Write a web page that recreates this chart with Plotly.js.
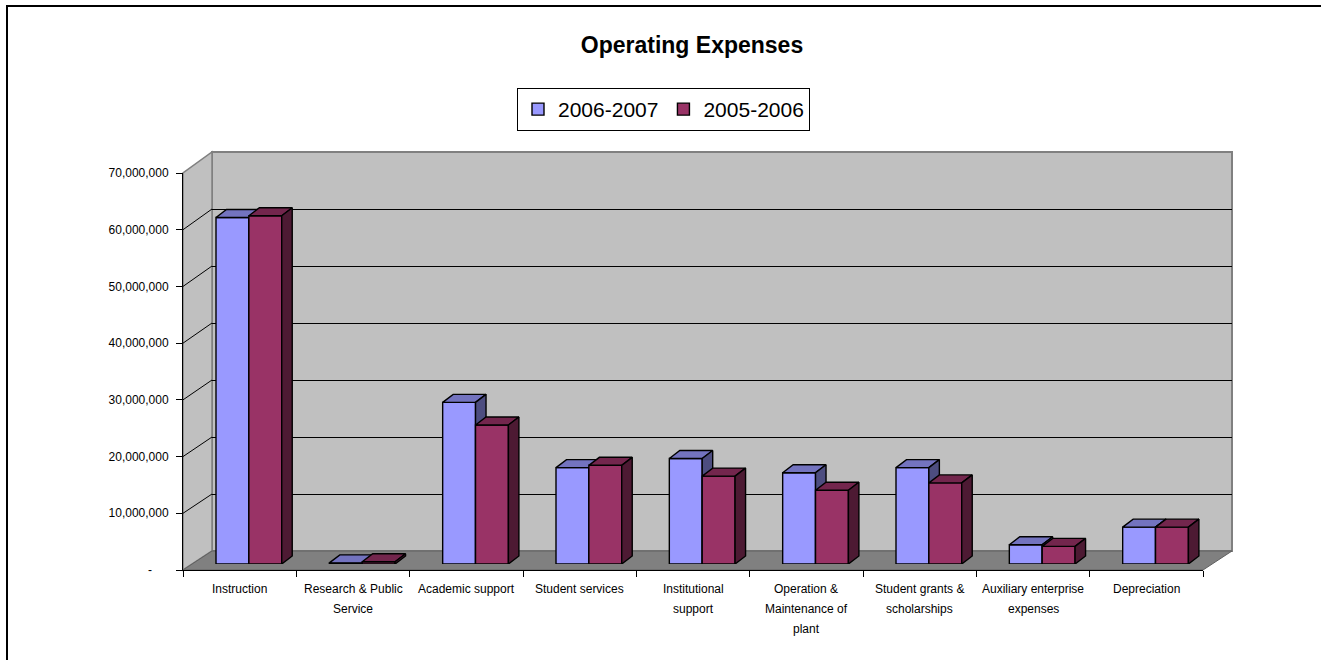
<!DOCTYPE html>
<html>
<head>
<meta charset="utf-8">
<script src="https://cdn.plot.ly/plotly-3.0.1.min.js"></script>
<style>
html,body{margin:0;padding:0;background:#fff;overflow:hidden;width:1321px;height:660px;}
#wrap{position:relative;width:1321px;height:660px;overflow:hidden;}
#chart{width:1321px;height:660px;}
#frame{position:absolute;left:6px;top:5px;width:1400px;height:800px;border-left:2px solid #000;border-top:2px solid #000;pointer-events:none;}
</style>
</head>
<body>
<div id="wrap"><div id="chart"></div><div id="frame"></div></div>
<script>
// ---- data ----
const categories = [
  'Instruction',
  'Research & Public<br>Service',
  'Academic support',
  'Student services',
  'Institutional<br>support',
  'Operation &<br>Maintenance of<br>plant',
  'Student grants &<br>scholarships',
  'Auxiliary enterprise<br>expenses',
  'Depreciation'
];
const seriesNames = ['2006-2007', '2005-2006'];
const values2007 = [61.1e6, 0.2e6, 28.5e6, 17.0e6, 18.6e6, 16.1e6, 17.0e6, 3.4e6, 6.5e6];
const values2006 = [61.4e6, 0.4e6, 24.5e6, 17.4e6, 15.5e6, 13.0e6, 14.3e6, 3.1e6, 6.5e6];
const yTickVals = [0, 10e6, 20e6, 30e6, 40e6, 50e6, 60e6, 70e6];
const yTickText = ['-\u00a0\u00a0\u00a0\u00a0\u00a0', '10,000,000', '20,000,000', '30,000,000', '40,000,000', '50,000,000', '60,000,000', '70,000,000'];

// ---- geometry (pixels) ----
const W = 1321, H = 660;
const L = 183, R = 1232, T = 152, B = 570;     // plot area
const PW = R - L, PH = B - T;
const frontRight = 1203, frontTop = 173;         // front frame
const depthX = 29, depthY = 19;                  // floor depth
const barShiftX = 9.2, barShiftY = 6;            // bar plane offset
const yMax = 70e6;
const nCat = categories.length;
const px2x = p => (p - L) / PW;
const py2y = p => (B - p) / PH;

const catPx = (frontRight - L) / nCat;
const valPx = (B - frontTop) / yMax;
const barW = 0.29;
const ddx = 10.5 / catPx;     // bar depth in category units
const ddy = 8 / valPx;        // bar depth in value units

const blue = '#9999FF', blueTop = '#7373BF', blueSide = '#4D4D80';
const red = '#993366', redTop = '#73264D', redSide = '#4D1A33';
const font = 'Liberation Sans, Arial, sans-serif';

const idx = categories.map((c, i) => i);

function faces(vals, off, which) {
  const xs = [], ys = [];
  vals.forEach((v, i) => {
    const x0 = i + off, x1 = i + off + barW;
    if (which === 'top') {
      xs.push(x0, x1, x1 + ddx, x0 + ddx, x0, null);
      ys.push(v, v, v + ddy, v + ddy, v, null);
    } else {
      xs.push(x1, x1, x1 + ddx, x1 + ddx, x1, null);
      ys.push(0, v, v + ddy, ddy, 0, null);
    }
  });
  return {xs, ys};
}

function seriesTraces(vals, off, name, c, cTop, cSide, ax) {
  const t = faces(vals, off, 'top'), s = faces(vals, off, 'side');
  return [
    {type: 'bar', x: idx, y: vals, offset: off, width: barW, name: name,
     marker: {color: c, line: {color: '#000', width: 1.4}},
     xaxis: 'x' + ax, yaxis: 'y' + ax, hoverinfo: 'skip'},
    {type: 'scatter', mode: 'lines', x: t.xs, y: t.ys, fill: 'toself', fillcolor: cTop,
     line: {color: '#000', width: 1.4}, showlegend: false, xaxis: 'x' + ax, yaxis: 'y' + ax, hoverinfo: 'skip'},
    {type: 'scatter', mode: 'lines', x: s.xs, y: s.ys, fill: 'toself', fillcolor: cSide,
     line: {color: '#000', width: 1.4}, showlegend: false, xaxis: 'x' + ax, yaxis: 'y' + ax, hoverinfo: 'skip'}
  ];
}

const traces = [
  {type: 'scatter', x: [0], y: [0], mode: 'markers', marker: {opacity: 0}, showlegend: false, hoverinfo: 'skip', xaxis: 'x', yaxis: 'y'},
  {type: 'scatter', x: [0], y: [0], mode: 'markers', marker: {opacity: 0}, showlegend: false, hoverinfo: 'skip', xaxis: 'x2', yaxis: 'y2'},
  ...seriesTraces(values2007, -barW, seriesNames[0], blue, blueTop, blueSide, 3),
  ...seriesTraces(values2006, 0, seriesNames[1], red, redTop, redSide, 4)
];

// ---- walls (decoration) ----
const shapes = [];
shapes.push({type: 'rect', xref: 'paper', yref: 'paper', layer: 'below',
  x0: px2x(L + depthX), x1: px2x(R), y0: py2y(B - depthY), y1: py2y(T),
  fillcolor: '#C0C0C0', line: {color: '#808080', width: 2}});
shapes.push({type: 'path', xref: 'paper', yref: 'paper', layer: 'below',
  path: `M${px2x(L)},${py2y(B)} L${px2x(L)},${py2y(frontTop)} L${px2x(L + depthX)},${py2y(T)} L${px2x(L + depthX)},${py2y(B - depthY)} Z`,
  fillcolor: '#C0C0C0', line: {color: '#808080', width: 1.5}});
shapes.push({type: 'path', xref: 'paper', yref: 'paper', layer: 'below',
  path: `M${px2x(L)},${py2y(B)} L${px2x(frontRight)},${py2y(B)} L${px2x(R)},${py2y(B - depthY)} L${px2x(L + depthX)},${py2y(B - depthY)} Z`,
  fillcolor: '#808080', line: {color: '#606060', width: 1}});
yTickVals.forEach(v => {
  if (v === 0 || v === yMax) return;
  const yf = B - v * valPx;
  const yb = (B - depthY) - v * ((B - depthY - T) / yMax);
  shapes.push({type: 'line', xref: 'paper', yref: 'paper', layer: 'below',
    x0: px2x(L), y0: py2y(yf), x1: px2x(L + depthX), y1: py2y(yb), line: {color: '#000', width: 1}});
});

// ---- category labels (one annotation per line) ----
const annotations = [];
categories.forEach((c, i) => {
  c.split('<br>').forEach((line, k) => {
    annotations.push({xref: 'x', yref: 'paper', x: i, y: 0, yanchor: 'middle', xanchor: 'center',
      yshift: -(19 + 20 * k), text: line, showarrow: false,
      font: {family: font, size: 12, color: '#000'}});
  });
});

const barDomX = [px2x(L + barShiftX), px2x(frontRight + barShiftX)];
const barDomY = [py2y(B - barShiftY), py2y(B - barShiftY - yMax * valPx)];
const hidden = {visible: false, fixedrange: true};

const layout = {
  width: W, height: H,
  margin: {l: L, r: W - R, t: T, b: H - B, pad: 0},
  paper_bgcolor: '#fff', plot_bgcolor: 'rgba(0,0,0,0)',
  showlegend: true,
  title: {text: 'Operating Expenses', xref: 'container', x: 692 / W, xanchor: 'center',
    yref: 'container', y: 1 - 45 / H, yanchor: 'middle',
    font: {family: font, size: 23, color: '#000', weight: 700}},
  legend: {orientation: 'h', xref: 'container', x: 663.5 / W, xanchor: 'center',
    yref: 'container', y: 1 - 88 / H, yanchor: 'top',
    bgcolor: '#fff', bordercolor: '#000', borderwidth: 1,
    font: {family: font, size: 21, color: '#000'}, itemwidth: 30, traceorder: 'normal'},
  xaxis: {domain: [0, px2x(frontRight)], range: [-0.5, nCat - 0.5], anchor: 'y',
    tickmode: 'array', tickvals: idx.concat([nCat]).map(i => i - 0.5), ticktext: idx.concat([nCat]).map(() => ''),
    ticks: 'outside', ticklen: 6, tickcolor: '#000', tickwidth: 1,
    showline: true, linecolor: '#000', linewidth: 1, showgrid: false, zeroline: false, fixedrange: true},
  yaxis: {domain: [0, py2y(frontTop)], range: [0, yMax], anchor: 'x',
    tickmode: 'array', tickvals: yTickVals, ticktext: yTickText,
    ticks: 'outside', ticklen: 6, tickcolor: '#000', tickwidth: 1, ticklabelstandoff: 5,
    showline: true, linecolor: '#000', linewidth: 1, showgrid: false, zeroline: false,
    tickfont: {family: font, size: 12, color: '#000'}, fixedrange: true},
  xaxis2: {domain: [px2x(L + depthX), 1], range: [-0.5, nCat - 0.5], anchor: 'y2',
    showgrid: false, showticklabels: false, ticks: '', zeroline: false, showline: false, fixedrange: true},
  yaxis2: {domain: [py2y(B - depthY), 1], range: [0, yMax], anchor: 'x2',
    tickmode: 'array', tickvals: yTickVals.slice(1, -1), showticklabels: false, ticks: '',
    showgrid: true, gridcolor: '#000', gridwidth: 1, zeroline: false, showline: false, fixedrange: true},
  xaxis3: Object.assign({domain: barDomX, range: [-0.5, nCat - 0.5], anchor: 'y3'}, hidden),
  yaxis3: Object.assign({domain: barDomY, range: [0, yMax], anchor: 'x3'}, hidden),
  xaxis4: Object.assign({domain: barDomX, range: [-0.5, nCat - 0.5], anchor: 'y4'}, hidden),
  yaxis4: Object.assign({domain: barDomY, range: [0, yMax], anchor: 'x4'}, hidden),
  shapes: shapes,
  annotations: annotations
};

Plotly.newPlot('chart', traces, layout, {staticPlot: true, displayModeBar: false});
</script>
</body>
</html>
